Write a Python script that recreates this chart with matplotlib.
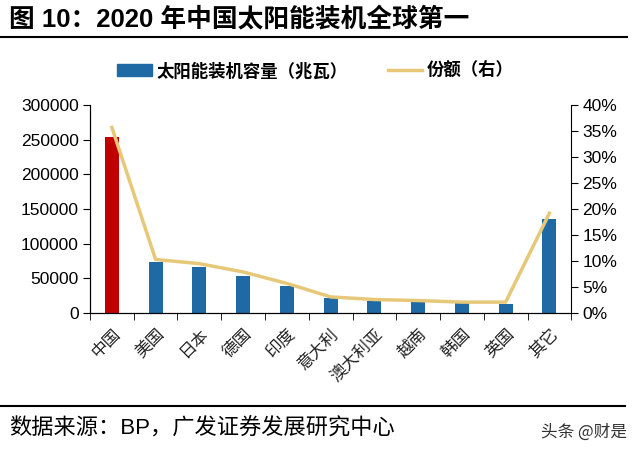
import numpy as np
import matplotlib.pyplot as plt
from matplotlib.lines import Line2D
from matplotlib.patches import Patch

plt.rcParams['font.family'] = ['Liberation Sans', 'Noto Sans CJK SC', 'DejaVu Sans']

# data
countries = ['中国', '美国', '日本', '德国', '印度', '意大利', '澳大利亚', '越南', '韩国', '英国', '其它']
capacity = [254000, 73800, 66000, 53000, 38500, 21600, 17300, 16500, 14600, 13500, 135500]
share = [35.7, 10.3, 9.5, 7.9, 5.7, 3.1, 2.6, 2.4, 2.1, 2.1, 19.2]

blue = '#1f6aa5'
red = '#c00000'
gold = '#e6c878'

fig = plt.figure(figsize=(6.4, 4.53), dpi=100)
ax = fig.add_axes([0.1406, 0.309, 0.752, 0.459])
ax2 = ax.twinx()

x = np.arange(len(countries))
colors = [red] + [blue] * (len(countries) - 1)
ax.bar(x, capacity, width=0.32, color=colors, zorder=2)
ax2.plot(x, share, color=gold, lw=2.5, zorder=3)

ax.set_xlim(-0.5, len(countries) - 0.5)
ax.set_ylim(0, 300000)
ax.set_yticks(np.arange(0, 300001, 50000))
ax.set_yticklabels([str(v) for v in range(0, 300001, 50000)], fontsize=12.5)
ax2.set_ylim(0, 40)
ax2.set_yticks(np.arange(0, 41, 5))
ax2.set_yticklabels([f'{v}%' for v in range(0, 41, 5)], fontsize=12.5)

ax.set_xticks(x)
ax.set_xticklabels(countries, rotation=45, ha='right', rotation_mode='anchor',
                   fontsize=12, family=['Noto Sans CJK SC'], color='#222222')
ax.set_xticks(np.arange(-0.5, len(countries)), minor=True)
ax.tick_params(axis='x', which='major', length=0, pad=9)
ax.tick_params(axis='x', which='minor', length=5, direction='out')
ax.tick_params(axis='y', length=5, direction='out', pad=3)
ax2.tick_params(axis='y', length=5, direction='out', pad=3)

for a in (ax, ax2):
    a.spines['top'].set_visible(False)
ax.spines['right'].set_visible(False)

# legend
handles = [Patch(color=blue), Line2D([0], [0], color=gold, lw=2.5)]
fig.legend(handles, ['太阳能装机容量（兆瓦）', '份额（右）'], loc='center',
           bbox_to_anchor=(0.493, 0.843), ncol=2, frameon=False,
           prop={'family': ['Noto Sans CJK SC'], 'weight': 'bold', 'size': 12.5},
           handlelength=2.0, handletextpad=0.25, columnspacing=2.3)

# title and source
fig.text(0.014, 0.958, '图 10：2020 年中国太阳能装机全球第一', fontsize=18.5, weight='bold',
         family=['Liberation Sans', 'Noto Sans CJK SC'], va='center')
fig.add_artist(Line2D([0.0, 0.98], [0.918, 0.918], color='black', lw=1.5))
fig.add_artist(Line2D([0.0, 0.977], [0.104, 0.104], color='black', lw=1.5))
fig.text(0.015, 0.054, '数据来源：BP，广发证券发展研究中心', fontsize=16,
         family=['Liberation Sans', 'Noto Sans CJK SC'], va='center')
fig.text(0.98, 0.046, '头条 @财是', fontsize=12, ha='right', va='center',
         family=['Noto Sans CJK SC'], color='#333333')

fig.savefig('out.png', dpi=100)
